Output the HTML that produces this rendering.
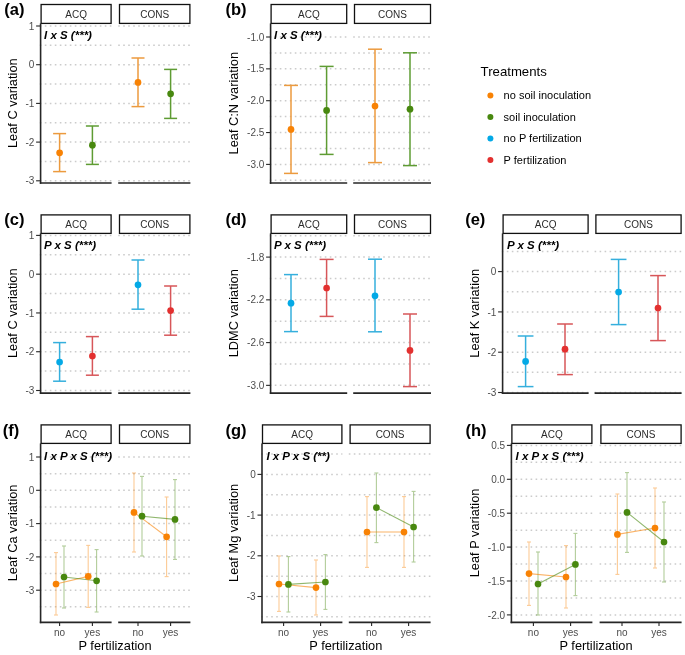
<!DOCTYPE html>
<html><head><meta charset="utf-8"><style>
html,body{margin:0;padding:0;background:#fff;}
body{width:685px;height:655px;overflow:hidden;font-family:"Liberation Sans", sans-serif;}
svg{display:block;will-change:transform;}
</style></head><body>
<svg width="685" height="655" viewBox="0 0 685 655">
<rect width="685" height="655" fill="#fff"/>
<text x="4.3" y="15.2" font-family='"Liberation Sans", sans-serif' font-weight="bold" font-size="16.5">(a)</text>
<rect x="41.10" y="4.50" width="70.00" height="18.90" fill="#fff" stroke="#111" stroke-width="1.3"/>
<text x="76.10" y="18.10" text-anchor="middle" font-family='"Liberation Sans", sans-serif' font-size="10" fill="#2b2b2b">ACQ</text>
<rect x="119.50" y="4.50" width="70.40" height="18.90" fill="#fff" stroke="#111" stroke-width="1.3"/>
<text x="154.70" y="18.10" text-anchor="middle" font-family='"Liberation Sans", sans-serif' font-size="10" fill="#2b2b2b">CONS</text>
<line x1="39.80" y1="180.80" x2="111.60" y2="180.80" stroke="#CBCBCB" stroke-width="1.5" stroke-dasharray="1.6 3.4"/>
<line x1="39.80" y1="161.45" x2="111.60" y2="161.45" stroke="#CBCBCB" stroke-width="1.5" stroke-dasharray="1.6 3.4"/>
<line x1="39.80" y1="142.10" x2="111.60" y2="142.10" stroke="#CBCBCB" stroke-width="1.5" stroke-dasharray="1.6 3.4"/>
<line x1="39.80" y1="122.75" x2="111.60" y2="122.75" stroke="#CBCBCB" stroke-width="1.5" stroke-dasharray="1.6 3.4"/>
<line x1="39.80" y1="103.40" x2="111.60" y2="103.40" stroke="#CBCBCB" stroke-width="1.5" stroke-dasharray="1.6 3.4"/>
<line x1="39.80" y1="84.05" x2="111.60" y2="84.05" stroke="#CBCBCB" stroke-width="1.5" stroke-dasharray="1.6 3.4"/>
<line x1="39.80" y1="64.70" x2="111.60" y2="64.70" stroke="#CBCBCB" stroke-width="1.5" stroke-dasharray="1.6 3.4"/>
<line x1="39.80" y1="45.35" x2="111.60" y2="45.35" stroke="#CBCBCB" stroke-width="1.5" stroke-dasharray="1.6 3.4"/>
<line x1="39.80" y1="26.00" x2="111.60" y2="26.00" stroke="#CBCBCB" stroke-width="1.5" stroke-dasharray="1.6 3.4"/>
<line x1="118.20" y1="180.80" x2="190.40" y2="180.80" stroke="#CBCBCB" stroke-width="1.5" stroke-dasharray="1.6 3.4"/>
<line x1="118.20" y1="161.45" x2="190.40" y2="161.45" stroke="#CBCBCB" stroke-width="1.5" stroke-dasharray="1.6 3.4"/>
<line x1="118.20" y1="142.10" x2="190.40" y2="142.10" stroke="#CBCBCB" stroke-width="1.5" stroke-dasharray="1.6 3.4"/>
<line x1="118.20" y1="122.75" x2="190.40" y2="122.75" stroke="#CBCBCB" stroke-width="1.5" stroke-dasharray="1.6 3.4"/>
<line x1="118.20" y1="103.40" x2="190.40" y2="103.40" stroke="#CBCBCB" stroke-width="1.5" stroke-dasharray="1.6 3.4"/>
<line x1="118.20" y1="84.05" x2="190.40" y2="84.05" stroke="#CBCBCB" stroke-width="1.5" stroke-dasharray="1.6 3.4"/>
<line x1="118.20" y1="64.70" x2="190.40" y2="64.70" stroke="#CBCBCB" stroke-width="1.5" stroke-dasharray="1.6 3.4"/>
<line x1="118.20" y1="45.35" x2="190.40" y2="45.35" stroke="#CBCBCB" stroke-width="1.5" stroke-dasharray="1.6 3.4"/>
<line x1="118.20" y1="26.00" x2="190.40" y2="26.00" stroke="#CBCBCB" stroke-width="1.5" stroke-dasharray="1.6 3.4"/>
<line x1="40.60" y1="23.40" x2="40.60" y2="183.80" stroke="#262626" stroke-width="1.6"/>
<line x1="39.80" y1="183.00" x2="111.60" y2="183.00" stroke="#262626" stroke-width="1.6"/>
<line x1="118.20" y1="183.00" x2="190.40" y2="183.00" stroke="#262626" stroke-width="1.6"/>
<line x1="36.10" y1="26.00" x2="40.60" y2="26.00" stroke="#262626" stroke-width="1.1"/>
<text x="34.30" y="29.60" text-anchor="end" font-family='"Liberation Sans", sans-serif' font-size="10" fill="#4D4D4D">1</text>
<line x1="36.10" y1="64.70" x2="40.60" y2="64.70" stroke="#262626" stroke-width="1.1"/>
<text x="34.30" y="68.30" text-anchor="end" font-family='"Liberation Sans", sans-serif' font-size="10" fill="#4D4D4D">0</text>
<line x1="36.10" y1="103.40" x2="40.60" y2="103.40" stroke="#262626" stroke-width="1.1"/>
<text x="34.30" y="107.00" text-anchor="end" font-family='"Liberation Sans", sans-serif' font-size="10" fill="#4D4D4D">-1</text>
<line x1="36.10" y1="142.10" x2="40.60" y2="142.10" stroke="#262626" stroke-width="1.1"/>
<text x="34.30" y="145.70" text-anchor="end" font-family='"Liberation Sans", sans-serif' font-size="10" fill="#4D4D4D">-2</text>
<line x1="36.10" y1="180.80" x2="40.60" y2="180.80" stroke="#262626" stroke-width="1.1"/>
<text x="34.30" y="184.40" text-anchor="end" font-family='"Liberation Sans", sans-serif' font-size="10" fill="#4D4D4D">-3</text>
<text transform="translate(17.00,103.20) rotate(-90)" text-anchor="middle" font-family='"Liberation Sans", sans-serif' font-size="12.8" fill="#000">Leaf C variation</text>
<text x="44" y="38.5" font-family='"Liberation Sans", sans-serif' font-weight="bold" font-style="italic" font-size="11.5" fill="#000">I x S (***)</text>
<g stroke="#EC9A3E" stroke-width="1.5"><line x1="59.60" y1="133.60" x2="59.60" y2="171.60"/><line x1="53.10" y1="133.60" x2="66.10" y2="133.60"/><line x1="53.10" y1="171.60" x2="66.10" y2="171.60"/></g>
<circle cx="59.60" cy="152.80" r="3.35" fill="#F88204"/>
<g stroke="#5E9C33" stroke-width="1.5"><line x1="92.40" y1="126.00" x2="92.40" y2="164.40"/><line x1="85.90" y1="126.00" x2="98.90" y2="126.00"/><line x1="85.90" y1="164.40" x2="98.90" y2="164.40"/></g>
<circle cx="92.40" cy="145.20" r="3.35" fill="#48880F"/>
<g stroke="#EC9A3E" stroke-width="1.5"><line x1="138.00" y1="58.00" x2="138.00" y2="106.60"/><line x1="131.50" y1="58.00" x2="144.50" y2="58.00"/><line x1="131.50" y1="106.60" x2="144.50" y2="106.60"/></g>
<circle cx="138.00" cy="82.40" r="3.35" fill="#F88204"/>
<g stroke="#5E9C33" stroke-width="1.5"><line x1="170.60" y1="69.40" x2="170.60" y2="118.40"/><line x1="164.10" y1="69.40" x2="177.10" y2="69.40"/><line x1="164.10" y1="118.40" x2="177.10" y2="118.40"/></g>
<circle cx="170.60" cy="93.80" r="3.35" fill="#48880F"/>
<text x="225.5" y="15.2" font-family='"Liberation Sans", sans-serif' font-weight="bold" font-size="16.5">(b)</text>
<rect x="271.10" y="4.50" width="75.60" height="18.90" fill="#fff" stroke="#111" stroke-width="1.3"/>
<text x="308.90" y="18.10" text-anchor="middle" font-family='"Liberation Sans", sans-serif' font-size="10" fill="#2b2b2b">ACQ</text>
<rect x="354.50" y="4.50" width="76.00" height="18.90" fill="#fff" stroke="#111" stroke-width="1.3"/>
<text x="392.50" y="18.10" text-anchor="middle" font-family='"Liberation Sans", sans-serif' font-size="10" fill="#2b2b2b">CONS</text>
<line x1="269.80" y1="180.33" x2="347.20" y2="180.33" stroke="#CBCBCB" stroke-width="1.5" stroke-dasharray="1.6 3.4"/>
<line x1="269.80" y1="164.40" x2="347.20" y2="164.40" stroke="#CBCBCB" stroke-width="1.5" stroke-dasharray="1.6 3.4"/>
<line x1="269.80" y1="148.48" x2="347.20" y2="148.48" stroke="#CBCBCB" stroke-width="1.5" stroke-dasharray="1.6 3.4"/>
<line x1="269.80" y1="132.55" x2="347.20" y2="132.55" stroke="#CBCBCB" stroke-width="1.5" stroke-dasharray="1.6 3.4"/>
<line x1="269.80" y1="116.62" x2="347.20" y2="116.62" stroke="#CBCBCB" stroke-width="1.5" stroke-dasharray="1.6 3.4"/>
<line x1="269.80" y1="100.70" x2="347.20" y2="100.70" stroke="#CBCBCB" stroke-width="1.5" stroke-dasharray="1.6 3.4"/>
<line x1="269.80" y1="84.78" x2="347.20" y2="84.78" stroke="#CBCBCB" stroke-width="1.5" stroke-dasharray="1.6 3.4"/>
<line x1="269.80" y1="68.85" x2="347.20" y2="68.85" stroke="#CBCBCB" stroke-width="1.5" stroke-dasharray="1.6 3.4"/>
<line x1="269.80" y1="52.92" x2="347.20" y2="52.92" stroke="#CBCBCB" stroke-width="1.5" stroke-dasharray="1.6 3.4"/>
<line x1="269.80" y1="37.00" x2="347.20" y2="37.00" stroke="#CBCBCB" stroke-width="1.5" stroke-dasharray="1.6 3.4"/>
<line x1="353.20" y1="180.33" x2="431.00" y2="180.33" stroke="#CBCBCB" stroke-width="1.5" stroke-dasharray="1.6 3.4"/>
<line x1="353.20" y1="164.40" x2="431.00" y2="164.40" stroke="#CBCBCB" stroke-width="1.5" stroke-dasharray="1.6 3.4"/>
<line x1="353.20" y1="148.48" x2="431.00" y2="148.48" stroke="#CBCBCB" stroke-width="1.5" stroke-dasharray="1.6 3.4"/>
<line x1="353.20" y1="132.55" x2="431.00" y2="132.55" stroke="#CBCBCB" stroke-width="1.5" stroke-dasharray="1.6 3.4"/>
<line x1="353.20" y1="116.62" x2="431.00" y2="116.62" stroke="#CBCBCB" stroke-width="1.5" stroke-dasharray="1.6 3.4"/>
<line x1="353.20" y1="100.70" x2="431.00" y2="100.70" stroke="#CBCBCB" stroke-width="1.5" stroke-dasharray="1.6 3.4"/>
<line x1="353.20" y1="84.78" x2="431.00" y2="84.78" stroke="#CBCBCB" stroke-width="1.5" stroke-dasharray="1.6 3.4"/>
<line x1="353.20" y1="68.85" x2="431.00" y2="68.85" stroke="#CBCBCB" stroke-width="1.5" stroke-dasharray="1.6 3.4"/>
<line x1="353.20" y1="52.92" x2="431.00" y2="52.92" stroke="#CBCBCB" stroke-width="1.5" stroke-dasharray="1.6 3.4"/>
<line x1="353.20" y1="37.00" x2="431.00" y2="37.00" stroke="#CBCBCB" stroke-width="1.5" stroke-dasharray="1.6 3.4"/>
<line x1="270.60" y1="23.40" x2="270.60" y2="183.80" stroke="#262626" stroke-width="1.6"/>
<line x1="269.80" y1="183.00" x2="347.20" y2="183.00" stroke="#262626" stroke-width="1.6"/>
<line x1="353.20" y1="183.00" x2="431.00" y2="183.00" stroke="#262626" stroke-width="1.6"/>
<line x1="266.10" y1="37.00" x2="270.60" y2="37.00" stroke="#262626" stroke-width="1.1"/>
<text x="264.30" y="40.60" text-anchor="end" font-family='"Liberation Sans", sans-serif' font-size="10" fill="#4D4D4D">-1.0</text>
<line x1="266.10" y1="68.85" x2="270.60" y2="68.85" stroke="#262626" stroke-width="1.1"/>
<text x="264.30" y="72.45" text-anchor="end" font-family='"Liberation Sans", sans-serif' font-size="10" fill="#4D4D4D">-1.5</text>
<line x1="266.10" y1="100.70" x2="270.60" y2="100.70" stroke="#262626" stroke-width="1.1"/>
<text x="264.30" y="104.30" text-anchor="end" font-family='"Liberation Sans", sans-serif' font-size="10" fill="#4D4D4D">-2.0</text>
<line x1="266.10" y1="132.55" x2="270.60" y2="132.55" stroke="#262626" stroke-width="1.1"/>
<text x="264.30" y="136.15" text-anchor="end" font-family='"Liberation Sans", sans-serif' font-size="10" fill="#4D4D4D">-2.5</text>
<line x1="266.10" y1="164.40" x2="270.60" y2="164.40" stroke="#262626" stroke-width="1.1"/>
<text x="264.30" y="168.00" text-anchor="end" font-family='"Liberation Sans", sans-serif' font-size="10" fill="#4D4D4D">-3.0</text>
<text transform="translate(238.00,103.20) rotate(-90)" text-anchor="middle" font-family='"Liberation Sans", sans-serif' font-size="12.8" fill="#000">Leaf C:N variation</text>
<text x="274" y="39" font-family='"Liberation Sans", sans-serif' font-weight="bold" font-style="italic" font-size="11.5" fill="#000">I x S (***)</text>
<g stroke="#EC9A3E" stroke-width="1.5"><line x1="291.00" y1="85.40" x2="291.00" y2="173.40"/><line x1="283.99" y1="85.40" x2="298.01" y2="85.40"/><line x1="283.99" y1="173.40" x2="298.01" y2="173.40"/></g>
<circle cx="291.00" cy="129.40" r="3.35" fill="#F88204"/>
<g stroke="#5E9C33" stroke-width="1.5"><line x1="326.60" y1="66.40" x2="326.60" y2="154.40"/><line x1="319.59" y1="66.40" x2="333.61" y2="66.40"/><line x1="319.59" y1="154.40" x2="333.61" y2="154.40"/></g>
<circle cx="326.60" cy="110.40" r="3.35" fill="#48880F"/>
<g stroke="#EC9A3E" stroke-width="1.5"><line x1="375.00" y1="49.20" x2="375.00" y2="162.60"/><line x1="367.99" y1="49.20" x2="382.01" y2="49.20"/><line x1="367.99" y1="162.60" x2="382.01" y2="162.60"/></g>
<circle cx="375.00" cy="106.00" r="3.35" fill="#F88204"/>
<g stroke="#5E9C33" stroke-width="1.5"><line x1="410.00" y1="52.80" x2="410.00" y2="165.60"/><line x1="402.99" y1="52.80" x2="417.01" y2="52.80"/><line x1="402.99" y1="165.60" x2="417.01" y2="165.60"/></g>
<circle cx="410.00" cy="109.20" r="3.35" fill="#48880F"/>
<text x="4.3" y="225.3" font-family='"Liberation Sans", sans-serif' font-weight="bold" font-size="16.5">(c)</text>
<rect x="41.10" y="214.90" width="70.00" height="18.50" fill="#fff" stroke="#111" stroke-width="1.3"/>
<text x="76.10" y="228.30" text-anchor="middle" font-family='"Liberation Sans", sans-serif' font-size="10" fill="#2b2b2b">ACQ</text>
<rect x="119.50" y="214.90" width="70.40" height="18.50" fill="#fff" stroke="#111" stroke-width="1.3"/>
<text x="154.70" y="228.30" text-anchor="middle" font-family='"Liberation Sans", sans-serif' font-size="10" fill="#2b2b2b">CONS</text>
<line x1="39.80" y1="390.50" x2="111.60" y2="390.50" stroke="#CBCBCB" stroke-width="1.5" stroke-dasharray="1.6 3.4"/>
<line x1="39.80" y1="371.11" x2="111.60" y2="371.11" stroke="#CBCBCB" stroke-width="1.5" stroke-dasharray="1.6 3.4"/>
<line x1="39.80" y1="351.73" x2="111.60" y2="351.73" stroke="#CBCBCB" stroke-width="1.5" stroke-dasharray="1.6 3.4"/>
<line x1="39.80" y1="332.34" x2="111.60" y2="332.34" stroke="#CBCBCB" stroke-width="1.5" stroke-dasharray="1.6 3.4"/>
<line x1="39.80" y1="312.95" x2="111.60" y2="312.95" stroke="#CBCBCB" stroke-width="1.5" stroke-dasharray="1.6 3.4"/>
<line x1="39.80" y1="293.56" x2="111.60" y2="293.56" stroke="#CBCBCB" stroke-width="1.5" stroke-dasharray="1.6 3.4"/>
<line x1="39.80" y1="274.18" x2="111.60" y2="274.18" stroke="#CBCBCB" stroke-width="1.5" stroke-dasharray="1.6 3.4"/>
<line x1="39.80" y1="254.79" x2="111.60" y2="254.79" stroke="#CBCBCB" stroke-width="1.5" stroke-dasharray="1.6 3.4"/>
<line x1="39.80" y1="235.40" x2="111.60" y2="235.40" stroke="#CBCBCB" stroke-width="1.5" stroke-dasharray="1.6 3.4"/>
<line x1="118.20" y1="390.50" x2="190.40" y2="390.50" stroke="#CBCBCB" stroke-width="1.5" stroke-dasharray="1.6 3.4"/>
<line x1="118.20" y1="371.11" x2="190.40" y2="371.11" stroke="#CBCBCB" stroke-width="1.5" stroke-dasharray="1.6 3.4"/>
<line x1="118.20" y1="351.73" x2="190.40" y2="351.73" stroke="#CBCBCB" stroke-width="1.5" stroke-dasharray="1.6 3.4"/>
<line x1="118.20" y1="332.34" x2="190.40" y2="332.34" stroke="#CBCBCB" stroke-width="1.5" stroke-dasharray="1.6 3.4"/>
<line x1="118.20" y1="312.95" x2="190.40" y2="312.95" stroke="#CBCBCB" stroke-width="1.5" stroke-dasharray="1.6 3.4"/>
<line x1="118.20" y1="293.56" x2="190.40" y2="293.56" stroke="#CBCBCB" stroke-width="1.5" stroke-dasharray="1.6 3.4"/>
<line x1="118.20" y1="274.18" x2="190.40" y2="274.18" stroke="#CBCBCB" stroke-width="1.5" stroke-dasharray="1.6 3.4"/>
<line x1="118.20" y1="254.79" x2="190.40" y2="254.79" stroke="#CBCBCB" stroke-width="1.5" stroke-dasharray="1.6 3.4"/>
<line x1="118.20" y1="235.40" x2="190.40" y2="235.40" stroke="#CBCBCB" stroke-width="1.5" stroke-dasharray="1.6 3.4"/>
<line x1="40.60" y1="233.40" x2="40.60" y2="393.90" stroke="#262626" stroke-width="1.6"/>
<line x1="39.80" y1="393.10" x2="111.60" y2="393.10" stroke="#262626" stroke-width="1.6"/>
<line x1="118.20" y1="393.10" x2="190.40" y2="393.10" stroke="#262626" stroke-width="1.6"/>
<line x1="36.10" y1="235.40" x2="40.60" y2="235.40" stroke="#262626" stroke-width="1.1"/>
<text x="34.30" y="239.00" text-anchor="end" font-family='"Liberation Sans", sans-serif' font-size="10" fill="#4D4D4D">1</text>
<line x1="36.10" y1="274.18" x2="40.60" y2="274.18" stroke="#262626" stroke-width="1.1"/>
<text x="34.30" y="277.78" text-anchor="end" font-family='"Liberation Sans", sans-serif' font-size="10" fill="#4D4D4D">0</text>
<line x1="36.10" y1="312.95" x2="40.60" y2="312.95" stroke="#262626" stroke-width="1.1"/>
<text x="34.30" y="316.55" text-anchor="end" font-family='"Liberation Sans", sans-serif' font-size="10" fill="#4D4D4D">-1</text>
<line x1="36.10" y1="351.73" x2="40.60" y2="351.73" stroke="#262626" stroke-width="1.1"/>
<text x="34.30" y="355.33" text-anchor="end" font-family='"Liberation Sans", sans-serif' font-size="10" fill="#4D4D4D">-2</text>
<line x1="36.10" y1="390.50" x2="40.60" y2="390.50" stroke="#262626" stroke-width="1.1"/>
<text x="34.30" y="394.10" text-anchor="end" font-family='"Liberation Sans", sans-serif' font-size="10" fill="#4D4D4D">-3</text>
<text transform="translate(17.00,313.25) rotate(-90)" text-anchor="middle" font-family='"Liberation Sans", sans-serif' font-size="12.8" fill="#000">Leaf C variation</text>
<text x="44" y="248.8" font-family='"Liberation Sans", sans-serif' font-weight="bold" font-style="italic" font-size="11.5" fill="#000">P x S (***)</text>
<g stroke="#35AFDD" stroke-width="1.5"><line x1="59.60" y1="342.60" x2="59.60" y2="381.20"/><line x1="53.10" y1="342.60" x2="66.10" y2="342.60"/><line x1="53.10" y1="381.20" x2="66.10" y2="381.20"/></g>
<circle cx="59.60" cy="362.00" r="3.35" fill="#03A9E6"/>
<g stroke="#D75659" stroke-width="1.5"><line x1="92.40" y1="336.60" x2="92.40" y2="375.20"/><line x1="85.90" y1="336.60" x2="98.90" y2="336.60"/><line x1="85.90" y1="375.20" x2="98.90" y2="375.20"/></g>
<circle cx="92.40" cy="356.00" r="3.35" fill="#E3302F"/>
<g stroke="#35AFDD" stroke-width="1.5"><line x1="138.00" y1="260.00" x2="138.00" y2="309.20"/><line x1="131.50" y1="260.00" x2="144.50" y2="260.00"/><line x1="131.50" y1="309.20" x2="144.50" y2="309.20"/></g>
<circle cx="138.00" cy="284.80" r="3.35" fill="#03A9E6"/>
<g stroke="#D75659" stroke-width="1.5"><line x1="170.60" y1="286.00" x2="170.60" y2="335.20"/><line x1="164.10" y1="286.00" x2="177.10" y2="286.00"/><line x1="164.10" y1="335.20" x2="177.10" y2="335.20"/></g>
<circle cx="170.60" cy="310.60" r="3.35" fill="#E3302F"/>
<text x="225.5" y="225.3" font-family='"Liberation Sans", sans-serif' font-weight="bold" font-size="16.5">(d)</text>
<rect x="271.10" y="214.90" width="75.60" height="18.50" fill="#fff" stroke="#111" stroke-width="1.3"/>
<text x="308.90" y="228.30" text-anchor="middle" font-family='"Liberation Sans", sans-serif' font-size="10" fill="#2b2b2b">ACQ</text>
<rect x="354.50" y="214.90" width="76.00" height="18.50" fill="#fff" stroke="#111" stroke-width="1.3"/>
<text x="392.50" y="228.30" text-anchor="middle" font-family='"Liberation Sans", sans-serif' font-size="10" fill="#2b2b2b">CONS</text>
<line x1="269.80" y1="385.35" x2="347.20" y2="385.35" stroke="#CBCBCB" stroke-width="1.5" stroke-dasharray="1.6 3.4"/>
<line x1="269.80" y1="363.97" x2="347.20" y2="363.97" stroke="#CBCBCB" stroke-width="1.5" stroke-dasharray="1.6 3.4"/>
<line x1="269.80" y1="342.60" x2="347.20" y2="342.60" stroke="#CBCBCB" stroke-width="1.5" stroke-dasharray="1.6 3.4"/>
<line x1="269.80" y1="321.22" x2="347.20" y2="321.22" stroke="#CBCBCB" stroke-width="1.5" stroke-dasharray="1.6 3.4"/>
<line x1="269.80" y1="299.85" x2="347.20" y2="299.85" stroke="#CBCBCB" stroke-width="1.5" stroke-dasharray="1.6 3.4"/>
<line x1="269.80" y1="278.47" x2="347.20" y2="278.47" stroke="#CBCBCB" stroke-width="1.5" stroke-dasharray="1.6 3.4"/>
<line x1="269.80" y1="257.10" x2="347.20" y2="257.10" stroke="#CBCBCB" stroke-width="1.5" stroke-dasharray="1.6 3.4"/>
<line x1="269.80" y1="235.72" x2="347.20" y2="235.72" stroke="#CBCBCB" stroke-width="1.5" stroke-dasharray="1.6 3.4"/>
<line x1="353.20" y1="385.35" x2="431.00" y2="385.35" stroke="#CBCBCB" stroke-width="1.5" stroke-dasharray="1.6 3.4"/>
<line x1="353.20" y1="363.97" x2="431.00" y2="363.97" stroke="#CBCBCB" stroke-width="1.5" stroke-dasharray="1.6 3.4"/>
<line x1="353.20" y1="342.60" x2="431.00" y2="342.60" stroke="#CBCBCB" stroke-width="1.5" stroke-dasharray="1.6 3.4"/>
<line x1="353.20" y1="321.22" x2="431.00" y2="321.22" stroke="#CBCBCB" stroke-width="1.5" stroke-dasharray="1.6 3.4"/>
<line x1="353.20" y1="299.85" x2="431.00" y2="299.85" stroke="#CBCBCB" stroke-width="1.5" stroke-dasharray="1.6 3.4"/>
<line x1="353.20" y1="278.47" x2="431.00" y2="278.47" stroke="#CBCBCB" stroke-width="1.5" stroke-dasharray="1.6 3.4"/>
<line x1="353.20" y1="257.10" x2="431.00" y2="257.10" stroke="#CBCBCB" stroke-width="1.5" stroke-dasharray="1.6 3.4"/>
<line x1="353.20" y1="235.72" x2="431.00" y2="235.72" stroke="#CBCBCB" stroke-width="1.5" stroke-dasharray="1.6 3.4"/>
<line x1="270.60" y1="233.40" x2="270.60" y2="393.90" stroke="#262626" stroke-width="1.6"/>
<line x1="269.80" y1="393.10" x2="347.20" y2="393.10" stroke="#262626" stroke-width="1.6"/>
<line x1="353.20" y1="393.10" x2="431.00" y2="393.10" stroke="#262626" stroke-width="1.6"/>
<line x1="266.10" y1="257.10" x2="270.60" y2="257.10" stroke="#262626" stroke-width="1.1"/>
<text x="264.30" y="260.70" text-anchor="end" font-family='"Liberation Sans", sans-serif' font-size="10" fill="#4D4D4D">-1.8</text>
<line x1="266.10" y1="299.85" x2="270.60" y2="299.85" stroke="#262626" stroke-width="1.1"/>
<text x="264.30" y="303.45" text-anchor="end" font-family='"Liberation Sans", sans-serif' font-size="10" fill="#4D4D4D">-2.2</text>
<line x1="266.10" y1="342.60" x2="270.60" y2="342.60" stroke="#262626" stroke-width="1.1"/>
<text x="264.30" y="346.20" text-anchor="end" font-family='"Liberation Sans", sans-serif' font-size="10" fill="#4D4D4D">-2.6</text>
<line x1="266.10" y1="385.35" x2="270.60" y2="385.35" stroke="#262626" stroke-width="1.1"/>
<text x="264.30" y="388.95" text-anchor="end" font-family='"Liberation Sans", sans-serif' font-size="10" fill="#4D4D4D">-3.0</text>
<text transform="translate(238.00,313.25) rotate(-90)" text-anchor="middle" font-family='"Liberation Sans", sans-serif' font-size="12.8" fill="#000">LDMC variation</text>
<text x="274" y="248.8" font-family='"Liberation Sans", sans-serif' font-weight="bold" font-style="italic" font-size="11.5" fill="#000">P x S (***)</text>
<g stroke="#35AFDD" stroke-width="1.5"><line x1="291.00" y1="274.60" x2="291.00" y2="331.60"/><line x1="283.99" y1="274.60" x2="298.01" y2="274.60"/><line x1="283.99" y1="331.60" x2="298.01" y2="331.60"/></g>
<circle cx="291.00" cy="303.20" r="3.35" fill="#03A9E6"/>
<g stroke="#D75659" stroke-width="1.5"><line x1="326.60" y1="259.40" x2="326.60" y2="316.40"/><line x1="319.59" y1="259.40" x2="333.61" y2="259.40"/><line x1="319.59" y1="316.40" x2="333.61" y2="316.40"/></g>
<circle cx="326.60" cy="288.00" r="3.35" fill="#E3302F"/>
<g stroke="#35AFDD" stroke-width="1.5"><line x1="375.00" y1="259.20" x2="375.00" y2="331.80"/><line x1="367.99" y1="259.20" x2="382.01" y2="259.20"/><line x1="367.99" y1="331.80" x2="382.01" y2="331.80"/></g>
<circle cx="375.00" cy="295.80" r="3.35" fill="#03A9E6"/>
<g stroke="#D75659" stroke-width="1.5"><line x1="410.00" y1="314.00" x2="410.00" y2="386.60"/><line x1="402.99" y1="314.00" x2="417.01" y2="314.00"/><line x1="402.99" y1="386.60" x2="417.01" y2="386.60"/></g>
<circle cx="410.00" cy="350.40" r="3.35" fill="#E3302F"/>
<text x="465.2" y="225.3" font-family='"Liberation Sans", sans-serif' font-weight="bold" font-size="16.5">(e)</text>
<rect x="503.10" y="214.90" width="85.00" height="18.50" fill="#fff" stroke="#111" stroke-width="1.3"/>
<text x="545.60" y="228.30" text-anchor="middle" font-family='"Liberation Sans", sans-serif' font-size="10" fill="#2b2b2b">ACQ</text>
<rect x="595.90" y="214.90" width="85.20" height="18.50" fill="#fff" stroke="#111" stroke-width="1.3"/>
<text x="638.50" y="228.30" text-anchor="middle" font-family='"Liberation Sans", sans-serif' font-size="10" fill="#2b2b2b">CONS</text>
<line x1="501.80" y1="392.50" x2="588.60" y2="392.50" stroke="#CBCBCB" stroke-width="1.5" stroke-dasharray="1.6 3.4"/>
<line x1="501.80" y1="372.35" x2="588.60" y2="372.35" stroke="#CBCBCB" stroke-width="1.5" stroke-dasharray="1.6 3.4"/>
<line x1="501.80" y1="352.20" x2="588.60" y2="352.20" stroke="#CBCBCB" stroke-width="1.5" stroke-dasharray="1.6 3.4"/>
<line x1="501.80" y1="332.05" x2="588.60" y2="332.05" stroke="#CBCBCB" stroke-width="1.5" stroke-dasharray="1.6 3.4"/>
<line x1="501.80" y1="311.90" x2="588.60" y2="311.90" stroke="#CBCBCB" stroke-width="1.5" stroke-dasharray="1.6 3.4"/>
<line x1="501.80" y1="291.75" x2="588.60" y2="291.75" stroke="#CBCBCB" stroke-width="1.5" stroke-dasharray="1.6 3.4"/>
<line x1="501.80" y1="271.60" x2="588.60" y2="271.60" stroke="#CBCBCB" stroke-width="1.5" stroke-dasharray="1.6 3.4"/>
<line x1="501.80" y1="251.45" x2="588.60" y2="251.45" stroke="#CBCBCB" stroke-width="1.5" stroke-dasharray="1.6 3.4"/>
<line x1="594.60" y1="392.50" x2="681.60" y2="392.50" stroke="#CBCBCB" stroke-width="1.5" stroke-dasharray="1.6 3.4"/>
<line x1="594.60" y1="372.35" x2="681.60" y2="372.35" stroke="#CBCBCB" stroke-width="1.5" stroke-dasharray="1.6 3.4"/>
<line x1="594.60" y1="352.20" x2="681.60" y2="352.20" stroke="#CBCBCB" stroke-width="1.5" stroke-dasharray="1.6 3.4"/>
<line x1="594.60" y1="332.05" x2="681.60" y2="332.05" stroke="#CBCBCB" stroke-width="1.5" stroke-dasharray="1.6 3.4"/>
<line x1="594.60" y1="311.90" x2="681.60" y2="311.90" stroke="#CBCBCB" stroke-width="1.5" stroke-dasharray="1.6 3.4"/>
<line x1="594.60" y1="291.75" x2="681.60" y2="291.75" stroke="#CBCBCB" stroke-width="1.5" stroke-dasharray="1.6 3.4"/>
<line x1="594.60" y1="271.60" x2="681.60" y2="271.60" stroke="#CBCBCB" stroke-width="1.5" stroke-dasharray="1.6 3.4"/>
<line x1="594.60" y1="251.45" x2="681.60" y2="251.45" stroke="#CBCBCB" stroke-width="1.5" stroke-dasharray="1.6 3.4"/>
<line x1="502.60" y1="233.40" x2="502.60" y2="393.90" stroke="#262626" stroke-width="1.6"/>
<line x1="501.80" y1="393.10" x2="588.60" y2="393.10" stroke="#262626" stroke-width="1.6"/>
<line x1="594.60" y1="393.10" x2="681.60" y2="393.10" stroke="#262626" stroke-width="1.6"/>
<line x1="498.10" y1="271.60" x2="502.60" y2="271.60" stroke="#262626" stroke-width="1.1"/>
<text x="496.30" y="275.20" text-anchor="end" font-family='"Liberation Sans", sans-serif' font-size="10" fill="#4D4D4D">0</text>
<line x1="498.10" y1="311.90" x2="502.60" y2="311.90" stroke="#262626" stroke-width="1.1"/>
<text x="496.30" y="315.50" text-anchor="end" font-family='"Liberation Sans", sans-serif' font-size="10" fill="#4D4D4D">-1</text>
<line x1="498.10" y1="352.20" x2="502.60" y2="352.20" stroke="#262626" stroke-width="1.1"/>
<text x="496.30" y="355.80" text-anchor="end" font-family='"Liberation Sans", sans-serif' font-size="10" fill="#4D4D4D">-2</text>
<line x1="498.10" y1="392.50" x2="502.60" y2="392.50" stroke="#262626" stroke-width="1.1"/>
<text x="496.30" y="396.10" text-anchor="end" font-family='"Liberation Sans", sans-serif' font-size="10" fill="#4D4D4D">-3</text>
<text transform="translate(479.00,313.25) rotate(-90)" text-anchor="middle" font-family='"Liberation Sans", sans-serif' font-size="12.8" fill="#000">Leaf K variation</text>
<text x="507" y="248.8" font-family='"Liberation Sans", sans-serif' font-weight="bold" font-style="italic" font-size="11.5" fill="#000">P x S (***)</text>
<g stroke="#35AFDD" stroke-width="1.5"><line x1="525.60" y1="336.00" x2="525.60" y2="386.60"/><line x1="517.73" y1="336.00" x2="533.47" y2="336.00"/><line x1="517.73" y1="386.60" x2="533.47" y2="386.60"/></g>
<circle cx="525.60" cy="361.40" r="3.35" fill="#03A9E6"/>
<g stroke="#D75659" stroke-width="1.5"><line x1="565.00" y1="324.00" x2="565.00" y2="374.60"/><line x1="557.13" y1="324.00" x2="572.87" y2="324.00"/><line x1="557.13" y1="374.60" x2="572.87" y2="374.60"/></g>
<circle cx="565.00" cy="349.20" r="3.35" fill="#E3302F"/>
<g stroke="#35AFDD" stroke-width="1.5"><line x1="618.60" y1="259.40" x2="618.60" y2="324.60"/><line x1="610.73" y1="259.40" x2="626.47" y2="259.40"/><line x1="610.73" y1="324.60" x2="626.47" y2="324.60"/></g>
<circle cx="618.60" cy="292.00" r="3.35" fill="#03A9E6"/>
<g stroke="#D75659" stroke-width="1.5"><line x1="658.00" y1="275.60" x2="658.00" y2="340.60"/><line x1="650.13" y1="275.60" x2="665.87" y2="275.60"/><line x1="650.13" y1="340.60" x2="665.87" y2="340.60"/></g>
<circle cx="658.00" cy="308.00" r="3.35" fill="#E3302F"/>
<text x="2.8" y="435.5" font-family='"Liberation Sans", sans-serif' font-weight="bold" font-size="16.5">(f)</text>
<rect x="41.10" y="424.90" width="70.00" height="18.50" fill="#fff" stroke="#111" stroke-width="1.3"/>
<text x="76.10" y="438.30" text-anchor="middle" font-family='"Liberation Sans", sans-serif' font-size="10" fill="#2b2b2b">ACQ</text>
<rect x="119.50" y="424.90" width="70.40" height="18.50" fill="#fff" stroke="#111" stroke-width="1.3"/>
<text x="154.70" y="438.30" text-anchor="middle" font-family='"Liberation Sans", sans-serif' font-size="10" fill="#2b2b2b">CONS</text>
<line x1="39.80" y1="606.85" x2="111.60" y2="606.85" stroke="#CBCBCB" stroke-width="1.5" stroke-dasharray="1.6 3.4"/>
<line x1="39.80" y1="590.20" x2="111.60" y2="590.20" stroke="#CBCBCB" stroke-width="1.5" stroke-dasharray="1.6 3.4"/>
<line x1="39.80" y1="573.55" x2="111.60" y2="573.55" stroke="#CBCBCB" stroke-width="1.5" stroke-dasharray="1.6 3.4"/>
<line x1="39.80" y1="556.90" x2="111.60" y2="556.90" stroke="#CBCBCB" stroke-width="1.5" stroke-dasharray="1.6 3.4"/>
<line x1="39.80" y1="540.25" x2="111.60" y2="540.25" stroke="#CBCBCB" stroke-width="1.5" stroke-dasharray="1.6 3.4"/>
<line x1="39.80" y1="523.60" x2="111.60" y2="523.60" stroke="#CBCBCB" stroke-width="1.5" stroke-dasharray="1.6 3.4"/>
<line x1="39.80" y1="506.95" x2="111.60" y2="506.95" stroke="#CBCBCB" stroke-width="1.5" stroke-dasharray="1.6 3.4"/>
<line x1="39.80" y1="490.30" x2="111.60" y2="490.30" stroke="#CBCBCB" stroke-width="1.5" stroke-dasharray="1.6 3.4"/>
<line x1="39.80" y1="473.65" x2="111.60" y2="473.65" stroke="#CBCBCB" stroke-width="1.5" stroke-dasharray="1.6 3.4"/>
<line x1="39.80" y1="457.00" x2="111.60" y2="457.00" stroke="#CBCBCB" stroke-width="1.5" stroke-dasharray="1.6 3.4"/>
<line x1="118.20" y1="606.85" x2="190.40" y2="606.85" stroke="#CBCBCB" stroke-width="1.5" stroke-dasharray="1.6 3.4"/>
<line x1="118.20" y1="590.20" x2="190.40" y2="590.20" stroke="#CBCBCB" stroke-width="1.5" stroke-dasharray="1.6 3.4"/>
<line x1="118.20" y1="573.55" x2="190.40" y2="573.55" stroke="#CBCBCB" stroke-width="1.5" stroke-dasharray="1.6 3.4"/>
<line x1="118.20" y1="556.90" x2="190.40" y2="556.90" stroke="#CBCBCB" stroke-width="1.5" stroke-dasharray="1.6 3.4"/>
<line x1="118.20" y1="540.25" x2="190.40" y2="540.25" stroke="#CBCBCB" stroke-width="1.5" stroke-dasharray="1.6 3.4"/>
<line x1="118.20" y1="523.60" x2="190.40" y2="523.60" stroke="#CBCBCB" stroke-width="1.5" stroke-dasharray="1.6 3.4"/>
<line x1="118.20" y1="506.95" x2="190.40" y2="506.95" stroke="#CBCBCB" stroke-width="1.5" stroke-dasharray="1.6 3.4"/>
<line x1="118.20" y1="490.30" x2="190.40" y2="490.30" stroke="#CBCBCB" stroke-width="1.5" stroke-dasharray="1.6 3.4"/>
<line x1="118.20" y1="473.65" x2="190.40" y2="473.65" stroke="#CBCBCB" stroke-width="1.5" stroke-dasharray="1.6 3.4"/>
<line x1="118.20" y1="457.00" x2="190.40" y2="457.00" stroke="#CBCBCB" stroke-width="1.5" stroke-dasharray="1.6 3.4"/>
<line x1="40.60" y1="443.40" x2="40.60" y2="623.20" stroke="#262626" stroke-width="1.6"/>
<line x1="39.80" y1="622.40" x2="111.60" y2="622.40" stroke="#262626" stroke-width="1.6"/>
<line x1="118.20" y1="622.40" x2="190.40" y2="622.40" stroke="#262626" stroke-width="1.6"/>
<line x1="36.10" y1="457.00" x2="40.60" y2="457.00" stroke="#262626" stroke-width="1.1"/>
<text x="34.30" y="460.60" text-anchor="end" font-family='"Liberation Sans", sans-serif' font-size="10" fill="#4D4D4D">1</text>
<line x1="36.10" y1="490.30" x2="40.60" y2="490.30" stroke="#262626" stroke-width="1.1"/>
<text x="34.30" y="493.90" text-anchor="end" font-family='"Liberation Sans", sans-serif' font-size="10" fill="#4D4D4D">0</text>
<line x1="36.10" y1="523.60" x2="40.60" y2="523.60" stroke="#262626" stroke-width="1.1"/>
<text x="34.30" y="527.20" text-anchor="end" font-family='"Liberation Sans", sans-serif' font-size="10" fill="#4D4D4D">-1</text>
<line x1="36.10" y1="556.90" x2="40.60" y2="556.90" stroke="#262626" stroke-width="1.1"/>
<text x="34.30" y="560.50" text-anchor="end" font-family='"Liberation Sans", sans-serif' font-size="10" fill="#4D4D4D">-2</text>
<line x1="36.10" y1="590.20" x2="40.60" y2="590.20" stroke="#262626" stroke-width="1.1"/>
<text x="34.30" y="593.80" text-anchor="end" font-family='"Liberation Sans", sans-serif' font-size="10" fill="#4D4D4D">-3</text>
<text transform="translate(17.00,532.90) rotate(-90)" text-anchor="middle" font-family='"Liberation Sans", sans-serif' font-size="12.8" fill="#000">Leaf Ca variation</text>
<text x="44" y="459.5" font-family='"Liberation Sans", sans-serif' font-weight="bold" font-style="italic" font-size="11.5" fill="#000">I x P x S (***)</text>
<line x1="59.60" y1="622.40" x2="59.60" y2="625.90" stroke="#262626" stroke-width="1.1"/>
<text x="59.60" y="635.90" text-anchor="middle" font-family='"Liberation Sans", sans-serif' font-size="10" fill="#4D4D4D">no</text>
<line x1="92.40" y1="622.40" x2="92.40" y2="625.90" stroke="#262626" stroke-width="1.1"/>
<text x="92.40" y="635.90" text-anchor="middle" font-family='"Liberation Sans", sans-serif' font-size="10" fill="#4D4D4D">yes</text>
<line x1="138.00" y1="622.40" x2="138.00" y2="625.90" stroke="#262626" stroke-width="1.1"/>
<text x="138.00" y="635.90" text-anchor="middle" font-family='"Liberation Sans", sans-serif' font-size="10" fill="#4D4D4D">no</text>
<line x1="170.60" y1="622.40" x2="170.60" y2="625.90" stroke="#262626" stroke-width="1.1"/>
<text x="170.60" y="635.90" text-anchor="middle" font-family='"Liberation Sans", sans-serif' font-size="10" fill="#4D4D4D">yes</text>
<text x="115.00" y="650.2" text-anchor="middle" font-family='"Liberation Sans", sans-serif' font-size="12.8" fill="#000">P fertilization</text>
<g stroke="#F88204" stroke-width="1.1" opacity="0.42"><line x1="56.00" y1="552.60" x2="56.00" y2="615.00"/><line x1="54.00" y1="552.60" x2="58.00" y2="552.60"/><line x1="54.00" y1="615.00" x2="58.00" y2="615.00"/></g>
<g stroke="#F88204" stroke-width="1.1" opacity="0.42"><line x1="88.20" y1="545.40" x2="88.20" y2="607.40"/><line x1="86.20" y1="545.40" x2="90.20" y2="545.40"/><line x1="86.20" y1="607.40" x2="90.20" y2="607.40"/></g>
<g stroke="#48880F" stroke-width="1.1" opacity="0.42"><line x1="64.00" y1="546.00" x2="64.00" y2="608.00"/><line x1="62.00" y1="546.00" x2="66.00" y2="546.00"/><line x1="62.00" y1="608.00" x2="66.00" y2="608.00"/></g>
<g stroke="#48880F" stroke-width="1.1" opacity="0.42"><line x1="96.60" y1="549.60" x2="96.60" y2="612.00"/><line x1="94.60" y1="549.60" x2="98.60" y2="549.60"/><line x1="94.60" y1="612.00" x2="98.60" y2="612.00"/></g>
<line x1="56.00" y1="584.00" x2="88.20" y2="576.40" stroke="#F88204" stroke-width="1.1" opacity="0.6"/>
<line x1="64.00" y1="577.00" x2="96.60" y2="580.80" stroke="#48880F" stroke-width="1.1" opacity="0.6"/>
<circle cx="56.00" cy="584.00" r="3.35" fill="#F88204"/>
<circle cx="88.20" cy="576.40" r="3.35" fill="#F88204"/>
<circle cx="64.00" cy="577.00" r="3.35" fill="#48880F"/>
<circle cx="96.60" cy="580.80" r="3.35" fill="#48880F"/>
<g stroke="#F88204" stroke-width="1.1" opacity="0.42"><line x1="134.00" y1="473.00" x2="134.00" y2="552.00"/><line x1="132.00" y1="473.00" x2="136.00" y2="473.00"/><line x1="132.00" y1="552.00" x2="136.00" y2="552.00"/></g>
<g stroke="#F88204" stroke-width="1.1" opacity="0.42"><line x1="166.60" y1="497.00" x2="166.60" y2="576.60"/><line x1="164.60" y1="497.00" x2="168.60" y2="497.00"/><line x1="164.60" y1="576.60" x2="168.60" y2="576.60"/></g>
<g stroke="#48880F" stroke-width="1.1" opacity="0.42"><line x1="142.00" y1="476.40" x2="142.00" y2="556.00"/><line x1="140.00" y1="476.40" x2="144.00" y2="476.40"/><line x1="140.00" y1="556.00" x2="144.00" y2="556.00"/></g>
<g stroke="#48880F" stroke-width="1.1" opacity="0.42"><line x1="175.00" y1="479.60" x2="175.00" y2="559.40"/><line x1="173.00" y1="479.60" x2="177.00" y2="479.60"/><line x1="173.00" y1="559.40" x2="177.00" y2="559.40"/></g>
<line x1="134.00" y1="512.40" x2="166.60" y2="536.80" stroke="#F88204" stroke-width="1.1" opacity="0.6"/>
<line x1="142.00" y1="516.20" x2="175.00" y2="519.40" stroke="#48880F" stroke-width="1.1" opacity="0.6"/>
<circle cx="134.00" cy="512.40" r="3.35" fill="#F88204"/>
<circle cx="166.60" cy="536.80" r="3.35" fill="#F88204"/>
<circle cx="142.00" cy="516.20" r="3.35" fill="#48880F"/>
<circle cx="175.00" cy="519.40" r="3.35" fill="#48880F"/>
<text x="225.5" y="435.5" font-family='"Liberation Sans", sans-serif' font-weight="bold" font-size="16.5">(g)</text>
<rect x="262.50" y="424.90" width="79.40" height="18.50" fill="#fff" stroke="#111" stroke-width="1.3"/>
<text x="302.20" y="438.30" text-anchor="middle" font-family='"Liberation Sans", sans-serif' font-size="10" fill="#2b2b2b">ACQ</text>
<rect x="350.10" y="424.90" width="80.00" height="18.50" fill="#fff" stroke="#111" stroke-width="1.3"/>
<text x="390.10" y="438.30" text-anchor="middle" font-family='"Liberation Sans", sans-serif' font-size="10" fill="#2b2b2b">CONS</text>
<line x1="261.20" y1="616.85" x2="342.40" y2="616.85" stroke="#CBCBCB" stroke-width="1.5" stroke-dasharray="1.6 3.4"/>
<line x1="261.20" y1="596.50" x2="342.40" y2="596.50" stroke="#CBCBCB" stroke-width="1.5" stroke-dasharray="1.6 3.4"/>
<line x1="261.20" y1="576.15" x2="342.40" y2="576.15" stroke="#CBCBCB" stroke-width="1.5" stroke-dasharray="1.6 3.4"/>
<line x1="261.20" y1="555.80" x2="342.40" y2="555.80" stroke="#CBCBCB" stroke-width="1.5" stroke-dasharray="1.6 3.4"/>
<line x1="261.20" y1="535.45" x2="342.40" y2="535.45" stroke="#CBCBCB" stroke-width="1.5" stroke-dasharray="1.6 3.4"/>
<line x1="261.20" y1="515.10" x2="342.40" y2="515.10" stroke="#CBCBCB" stroke-width="1.5" stroke-dasharray="1.6 3.4"/>
<line x1="261.20" y1="494.75" x2="342.40" y2="494.75" stroke="#CBCBCB" stroke-width="1.5" stroke-dasharray="1.6 3.4"/>
<line x1="261.20" y1="474.40" x2="342.40" y2="474.40" stroke="#CBCBCB" stroke-width="1.5" stroke-dasharray="1.6 3.4"/>
<line x1="261.20" y1="454.05" x2="342.40" y2="454.05" stroke="#CBCBCB" stroke-width="1.5" stroke-dasharray="1.6 3.4"/>
<line x1="348.80" y1="616.85" x2="430.60" y2="616.85" stroke="#CBCBCB" stroke-width="1.5" stroke-dasharray="1.6 3.4"/>
<line x1="348.80" y1="596.50" x2="430.60" y2="596.50" stroke="#CBCBCB" stroke-width="1.5" stroke-dasharray="1.6 3.4"/>
<line x1="348.80" y1="576.15" x2="430.60" y2="576.15" stroke="#CBCBCB" stroke-width="1.5" stroke-dasharray="1.6 3.4"/>
<line x1="348.80" y1="555.80" x2="430.60" y2="555.80" stroke="#CBCBCB" stroke-width="1.5" stroke-dasharray="1.6 3.4"/>
<line x1="348.80" y1="535.45" x2="430.60" y2="535.45" stroke="#CBCBCB" stroke-width="1.5" stroke-dasharray="1.6 3.4"/>
<line x1="348.80" y1="515.10" x2="430.60" y2="515.10" stroke="#CBCBCB" stroke-width="1.5" stroke-dasharray="1.6 3.4"/>
<line x1="348.80" y1="494.75" x2="430.60" y2="494.75" stroke="#CBCBCB" stroke-width="1.5" stroke-dasharray="1.6 3.4"/>
<line x1="348.80" y1="474.40" x2="430.60" y2="474.40" stroke="#CBCBCB" stroke-width="1.5" stroke-dasharray="1.6 3.4"/>
<line x1="348.80" y1="454.05" x2="430.60" y2="454.05" stroke="#CBCBCB" stroke-width="1.5" stroke-dasharray="1.6 3.4"/>
<line x1="262.00" y1="443.40" x2="262.00" y2="623.20" stroke="#262626" stroke-width="1.6"/>
<line x1="261.20" y1="622.40" x2="342.40" y2="622.40" stroke="#262626" stroke-width="1.6"/>
<line x1="348.80" y1="622.40" x2="430.60" y2="622.40" stroke="#262626" stroke-width="1.6"/>
<line x1="257.50" y1="474.40" x2="262.00" y2="474.40" stroke="#262626" stroke-width="1.1"/>
<text x="255.70" y="478.00" text-anchor="end" font-family='"Liberation Sans", sans-serif' font-size="10" fill="#4D4D4D">0</text>
<line x1="257.50" y1="515.10" x2="262.00" y2="515.10" stroke="#262626" stroke-width="1.1"/>
<text x="255.70" y="518.70" text-anchor="end" font-family='"Liberation Sans", sans-serif' font-size="10" fill="#4D4D4D">-1</text>
<line x1="257.50" y1="555.80" x2="262.00" y2="555.80" stroke="#262626" stroke-width="1.1"/>
<text x="255.70" y="559.40" text-anchor="end" font-family='"Liberation Sans", sans-serif' font-size="10" fill="#4D4D4D">-2</text>
<line x1="257.50" y1="596.50" x2="262.00" y2="596.50" stroke="#262626" stroke-width="1.1"/>
<text x="255.70" y="600.10" text-anchor="end" font-family='"Liberation Sans", sans-serif' font-size="10" fill="#4D4D4D">-3</text>
<text transform="translate(238.00,532.90) rotate(-90)" text-anchor="middle" font-family='"Liberation Sans", sans-serif' font-size="12.8" fill="#000">Leaf Mg variation</text>
<text x="266.4" y="459.5" font-family='"Liberation Sans", sans-serif' font-weight="bold" font-style="italic" font-size="11.5" fill="#000">I x P x S (**)</text>
<line x1="283.60" y1="622.40" x2="283.60" y2="625.90" stroke="#262626" stroke-width="1.1"/>
<text x="283.60" y="635.90" text-anchor="middle" font-family='"Liberation Sans", sans-serif' font-size="10" fill="#4D4D4D">no</text>
<line x1="320.60" y1="622.40" x2="320.60" y2="625.90" stroke="#262626" stroke-width="1.1"/>
<text x="320.60" y="635.90" text-anchor="middle" font-family='"Liberation Sans", sans-serif' font-size="10" fill="#4D4D4D">yes</text>
<line x1="371.60" y1="622.40" x2="371.60" y2="625.90" stroke="#262626" stroke-width="1.1"/>
<text x="371.60" y="635.90" text-anchor="middle" font-family='"Liberation Sans", sans-serif' font-size="10" fill="#4D4D4D">no</text>
<line x1="408.60" y1="622.40" x2="408.60" y2="625.90" stroke="#262626" stroke-width="1.1"/>
<text x="408.60" y="635.90" text-anchor="middle" font-family='"Liberation Sans", sans-serif' font-size="10" fill="#4D4D4D">yes</text>
<text x="345.80" y="650.2" text-anchor="middle" font-family='"Liberation Sans", sans-serif' font-size="12.8" fill="#000">P fertilization</text>
<g stroke="#F88204" stroke-width="1.1" opacity="0.42"><line x1="279.00" y1="556.00" x2="279.00" y2="611.40"/><line x1="277.00" y1="556.00" x2="281.00" y2="556.00"/><line x1="277.00" y1="611.40" x2="281.00" y2="611.40"/></g>
<g stroke="#F88204" stroke-width="1.1" opacity="0.42"><line x1="316.00" y1="560.00" x2="316.00" y2="615.00"/><line x1="314.00" y1="560.00" x2="318.00" y2="560.00"/><line x1="314.00" y1="615.00" x2="318.00" y2="615.00"/></g>
<g stroke="#48880F" stroke-width="1.1" opacity="0.42"><line x1="288.40" y1="556.60" x2="288.40" y2="612.00"/><line x1="286.40" y1="556.60" x2="290.40" y2="556.60"/><line x1="286.40" y1="612.00" x2="290.40" y2="612.00"/></g>
<g stroke="#48880F" stroke-width="1.1" opacity="0.42"><line x1="325.40" y1="554.60" x2="325.40" y2="609.40"/><line x1="323.40" y1="554.60" x2="327.40" y2="554.60"/><line x1="323.40" y1="609.40" x2="327.40" y2="609.40"/></g>
<line x1="279.00" y1="584.00" x2="316.00" y2="587.60" stroke="#F88204" stroke-width="1.1" opacity="0.6"/>
<line x1="288.40" y1="584.40" x2="325.40" y2="582.00" stroke="#48880F" stroke-width="1.1" opacity="0.6"/>
<circle cx="279.00" cy="584.00" r="3.35" fill="#F88204"/>
<circle cx="316.00" cy="587.60" r="3.35" fill="#F88204"/>
<circle cx="288.40" cy="584.40" r="3.35" fill="#48880F"/>
<circle cx="325.40" cy="582.00" r="3.35" fill="#48880F"/>
<g stroke="#F88204" stroke-width="1.1" opacity="0.42"><line x1="367.00" y1="496.60" x2="367.00" y2="567.40"/><line x1="365.00" y1="496.60" x2="369.00" y2="496.60"/><line x1="365.00" y1="567.40" x2="369.00" y2="567.40"/></g>
<g stroke="#F88204" stroke-width="1.1" opacity="0.42"><line x1="404.00" y1="496.60" x2="404.00" y2="567.40"/><line x1="402.00" y1="496.60" x2="406.00" y2="496.60"/><line x1="402.00" y1="567.40" x2="406.00" y2="567.40"/></g>
<g stroke="#48880F" stroke-width="1.1" opacity="0.42"><line x1="376.40" y1="473.00" x2="376.40" y2="542.60"/><line x1="374.40" y1="473.00" x2="378.40" y2="473.00"/><line x1="374.40" y1="542.60" x2="378.40" y2="542.60"/></g>
<g stroke="#48880F" stroke-width="1.1" opacity="0.42"><line x1="413.60" y1="491.40" x2="413.60" y2="562.00"/><line x1="411.60" y1="491.40" x2="415.60" y2="491.40"/><line x1="411.60" y1="562.00" x2="415.60" y2="562.00"/></g>
<line x1="367.00" y1="532.00" x2="404.00" y2="532.00" stroke="#F88204" stroke-width="1.1" opacity="0.6"/>
<line x1="376.40" y1="507.60" x2="413.60" y2="527.00" stroke="#48880F" stroke-width="1.1" opacity="0.6"/>
<circle cx="367.00" cy="532.00" r="3.35" fill="#F88204"/>
<circle cx="404.00" cy="532.00" r="3.35" fill="#F88204"/>
<circle cx="376.40" cy="507.60" r="3.35" fill="#48880F"/>
<circle cx="413.60" cy="527.00" r="3.35" fill="#48880F"/>
<text x="465.5" y="435.5" font-family='"Liberation Sans", sans-serif' font-weight="bold" font-size="16.5">(h)</text>
<rect x="511.90" y="424.90" width="80.00" height="18.50" fill="#fff" stroke="#111" stroke-width="1.3"/>
<text x="551.90" y="438.30" text-anchor="middle" font-family='"Liberation Sans", sans-serif' font-size="10" fill="#2b2b2b">ACQ</text>
<rect x="600.90" y="424.90" width="80.20" height="18.50" fill="#fff" stroke="#111" stroke-width="1.3"/>
<text x="641.00" y="438.30" text-anchor="middle" font-family='"Liberation Sans", sans-serif' font-size="10" fill="#2b2b2b">CONS</text>
<line x1="510.60" y1="614.90" x2="592.40" y2="614.90" stroke="#CBCBCB" stroke-width="1.5" stroke-dasharray="1.6 3.4"/>
<line x1="510.60" y1="597.95" x2="592.40" y2="597.95" stroke="#CBCBCB" stroke-width="1.5" stroke-dasharray="1.6 3.4"/>
<line x1="510.60" y1="581.00" x2="592.40" y2="581.00" stroke="#CBCBCB" stroke-width="1.5" stroke-dasharray="1.6 3.4"/>
<line x1="510.60" y1="564.05" x2="592.40" y2="564.05" stroke="#CBCBCB" stroke-width="1.5" stroke-dasharray="1.6 3.4"/>
<line x1="510.60" y1="547.10" x2="592.40" y2="547.10" stroke="#CBCBCB" stroke-width="1.5" stroke-dasharray="1.6 3.4"/>
<line x1="510.60" y1="530.15" x2="592.40" y2="530.15" stroke="#CBCBCB" stroke-width="1.5" stroke-dasharray="1.6 3.4"/>
<line x1="510.60" y1="513.20" x2="592.40" y2="513.20" stroke="#CBCBCB" stroke-width="1.5" stroke-dasharray="1.6 3.4"/>
<line x1="510.60" y1="496.25" x2="592.40" y2="496.25" stroke="#CBCBCB" stroke-width="1.5" stroke-dasharray="1.6 3.4"/>
<line x1="510.60" y1="479.30" x2="592.40" y2="479.30" stroke="#CBCBCB" stroke-width="1.5" stroke-dasharray="1.6 3.4"/>
<line x1="510.60" y1="462.35" x2="592.40" y2="462.35" stroke="#CBCBCB" stroke-width="1.5" stroke-dasharray="1.6 3.4"/>
<line x1="510.60" y1="445.40" x2="592.40" y2="445.40" stroke="#CBCBCB" stroke-width="1.5" stroke-dasharray="1.6 3.4"/>
<line x1="599.60" y1="614.90" x2="681.60" y2="614.90" stroke="#CBCBCB" stroke-width="1.5" stroke-dasharray="1.6 3.4"/>
<line x1="599.60" y1="597.95" x2="681.60" y2="597.95" stroke="#CBCBCB" stroke-width="1.5" stroke-dasharray="1.6 3.4"/>
<line x1="599.60" y1="581.00" x2="681.60" y2="581.00" stroke="#CBCBCB" stroke-width="1.5" stroke-dasharray="1.6 3.4"/>
<line x1="599.60" y1="564.05" x2="681.60" y2="564.05" stroke="#CBCBCB" stroke-width="1.5" stroke-dasharray="1.6 3.4"/>
<line x1="599.60" y1="547.10" x2="681.60" y2="547.10" stroke="#CBCBCB" stroke-width="1.5" stroke-dasharray="1.6 3.4"/>
<line x1="599.60" y1="530.15" x2="681.60" y2="530.15" stroke="#CBCBCB" stroke-width="1.5" stroke-dasharray="1.6 3.4"/>
<line x1="599.60" y1="513.20" x2="681.60" y2="513.20" stroke="#CBCBCB" stroke-width="1.5" stroke-dasharray="1.6 3.4"/>
<line x1="599.60" y1="496.25" x2="681.60" y2="496.25" stroke="#CBCBCB" stroke-width="1.5" stroke-dasharray="1.6 3.4"/>
<line x1="599.60" y1="479.30" x2="681.60" y2="479.30" stroke="#CBCBCB" stroke-width="1.5" stroke-dasharray="1.6 3.4"/>
<line x1="599.60" y1="462.35" x2="681.60" y2="462.35" stroke="#CBCBCB" stroke-width="1.5" stroke-dasharray="1.6 3.4"/>
<line x1="599.60" y1="445.40" x2="681.60" y2="445.40" stroke="#CBCBCB" stroke-width="1.5" stroke-dasharray="1.6 3.4"/>
<line x1="511.40" y1="443.40" x2="511.40" y2="623.20" stroke="#262626" stroke-width="1.6"/>
<line x1="510.60" y1="622.40" x2="592.40" y2="622.40" stroke="#262626" stroke-width="1.6"/>
<line x1="599.60" y1="622.40" x2="681.60" y2="622.40" stroke="#262626" stroke-width="1.6"/>
<line x1="506.90" y1="445.40" x2="511.40" y2="445.40" stroke="#262626" stroke-width="1.1"/>
<text x="505.10" y="449.00" text-anchor="end" font-family='"Liberation Sans", sans-serif' font-size="10" fill="#4D4D4D">0.5</text>
<line x1="506.90" y1="479.30" x2="511.40" y2="479.30" stroke="#262626" stroke-width="1.1"/>
<text x="505.10" y="482.90" text-anchor="end" font-family='"Liberation Sans", sans-serif' font-size="10" fill="#4D4D4D">0.0</text>
<line x1="506.90" y1="513.20" x2="511.40" y2="513.20" stroke="#262626" stroke-width="1.1"/>
<text x="505.10" y="516.80" text-anchor="end" font-family='"Liberation Sans", sans-serif' font-size="10" fill="#4D4D4D">-0.5</text>
<line x1="506.90" y1="547.10" x2="511.40" y2="547.10" stroke="#262626" stroke-width="1.1"/>
<text x="505.10" y="550.70" text-anchor="end" font-family='"Liberation Sans", sans-serif' font-size="10" fill="#4D4D4D">-1.0</text>
<line x1="506.90" y1="581.00" x2="511.40" y2="581.00" stroke="#262626" stroke-width="1.1"/>
<text x="505.10" y="584.60" text-anchor="end" font-family='"Liberation Sans", sans-serif' font-size="10" fill="#4D4D4D">-1.5</text>
<line x1="506.90" y1="614.90" x2="511.40" y2="614.90" stroke="#262626" stroke-width="1.1"/>
<text x="505.10" y="618.50" text-anchor="end" font-family='"Liberation Sans", sans-serif' font-size="10" fill="#4D4D4D">-2.0</text>
<text transform="translate(478.50,532.90) rotate(-90)" text-anchor="middle" font-family='"Liberation Sans", sans-serif' font-size="12.8" fill="#000">Leaf P variation</text>
<text x="515.6" y="459.5" font-family='"Liberation Sans", sans-serif' font-weight="bold" font-style="italic" font-size="11.5" fill="#000">I x P x S (***)</text>
<line x1="533.40" y1="622.40" x2="533.40" y2="625.90" stroke="#262626" stroke-width="1.1"/>
<text x="533.40" y="635.90" text-anchor="middle" font-family='"Liberation Sans", sans-serif' font-size="10" fill="#4D4D4D">no</text>
<line x1="570.60" y1="622.40" x2="570.60" y2="625.90" stroke="#262626" stroke-width="1.1"/>
<text x="570.60" y="635.90" text-anchor="middle" font-family='"Liberation Sans", sans-serif' font-size="10" fill="#4D4D4D">yes</text>
<line x1="622.00" y1="622.40" x2="622.00" y2="625.90" stroke="#262626" stroke-width="1.1"/>
<text x="622.00" y="635.90" text-anchor="middle" font-family='"Liberation Sans", sans-serif' font-size="10" fill="#4D4D4D">no</text>
<line x1="659.00" y1="622.40" x2="659.00" y2="625.90" stroke="#262626" stroke-width="1.1"/>
<text x="659.00" y="635.90" text-anchor="middle" font-family='"Liberation Sans", sans-serif' font-size="10" fill="#4D4D4D">yes</text>
<text x="596.00" y="650.2" text-anchor="middle" font-family='"Liberation Sans", sans-serif' font-size="12.8" fill="#000">P fertilization</text>
<g stroke="#F88204" stroke-width="1.1" opacity="0.42"><line x1="529.00" y1="542.00" x2="529.00" y2="605.40"/><line x1="527.00" y1="542.00" x2="531.00" y2="542.00"/><line x1="527.00" y1="605.40" x2="531.00" y2="605.40"/></g>
<g stroke="#F88204" stroke-width="1.1" opacity="0.42"><line x1="566.00" y1="545.60" x2="566.00" y2="608.00"/><line x1="564.00" y1="545.60" x2="568.00" y2="545.60"/><line x1="564.00" y1="608.00" x2="568.00" y2="608.00"/></g>
<g stroke="#48880F" stroke-width="1.1" opacity="0.42"><line x1="538.00" y1="552.00" x2="538.00" y2="615.00"/><line x1="536.00" y1="552.00" x2="540.00" y2="552.00"/><line x1="536.00" y1="615.00" x2="540.00" y2="615.00"/></g>
<g stroke="#48880F" stroke-width="1.1" opacity="0.42"><line x1="575.40" y1="533.40" x2="575.40" y2="595.60"/><line x1="573.40" y1="533.40" x2="577.40" y2="533.40"/><line x1="573.40" y1="595.60" x2="577.40" y2="595.60"/></g>
<line x1="529.00" y1="573.60" x2="566.00" y2="577.00" stroke="#F88204" stroke-width="1.1" opacity="0.6"/>
<line x1="538.00" y1="584.00" x2="575.40" y2="564.40" stroke="#48880F" stroke-width="1.1" opacity="0.6"/>
<circle cx="529.00" cy="573.60" r="3.35" fill="#F88204"/>
<circle cx="566.00" cy="577.00" r="3.35" fill="#F88204"/>
<circle cx="538.00" cy="584.00" r="3.35" fill="#48880F"/>
<circle cx="575.40" cy="564.40" r="3.35" fill="#48880F"/>
<g stroke="#F88204" stroke-width="1.1" opacity="0.42"><line x1="617.40" y1="494.00" x2="617.40" y2="574.40"/><line x1="615.40" y1="494.00" x2="619.40" y2="494.00"/><line x1="615.40" y1="574.40" x2="619.40" y2="574.40"/></g>
<g stroke="#F88204" stroke-width="1.1" opacity="0.42"><line x1="655.00" y1="488.00" x2="655.00" y2="568.00"/><line x1="653.00" y1="488.00" x2="657.00" y2="488.00"/><line x1="653.00" y1="568.00" x2="657.00" y2="568.00"/></g>
<g stroke="#48880F" stroke-width="1.1" opacity="0.42"><line x1="627.00" y1="472.60" x2="627.00" y2="552.40"/><line x1="625.00" y1="472.60" x2="629.00" y2="472.60"/><line x1="625.00" y1="552.40" x2="629.00" y2="552.40"/></g>
<g stroke="#48880F" stroke-width="1.1" opacity="0.42"><line x1="664.00" y1="502.00" x2="664.00" y2="582.00"/><line x1="662.00" y1="502.00" x2="666.00" y2="502.00"/><line x1="662.00" y1="582.00" x2="666.00" y2="582.00"/></g>
<line x1="617.40" y1="534.40" x2="655.00" y2="528.00" stroke="#F88204" stroke-width="1.1" opacity="0.6"/>
<line x1="627.00" y1="512.40" x2="664.00" y2="542.00" stroke="#48880F" stroke-width="1.1" opacity="0.6"/>
<circle cx="617.40" cy="534.40" r="3.35" fill="#F88204"/>
<circle cx="655.00" cy="528.00" r="3.35" fill="#F88204"/>
<circle cx="627.00" cy="512.40" r="3.35" fill="#48880F"/>
<circle cx="664.00" cy="542.00" r="3.35" fill="#48880F"/>
<text x="480.6" y="76.4" font-family='"Liberation Sans", sans-serif' font-size="13.2" fill="#000">Treatments</text>
<circle cx="490.4" cy="95.40" r="3" fill="#F88204"/>
<text x="503.6" y="99.00" font-family='"Liberation Sans", sans-serif' font-size="11" fill="#000">no soil inoculation</text>
<circle cx="490.4" cy="116.95" r="3" fill="#48880F"/>
<text x="503.6" y="120.55" font-family='"Liberation Sans", sans-serif' font-size="11" fill="#000">soil inoculation</text>
<circle cx="490.4" cy="138.50" r="3" fill="#03A9E6"/>
<text x="503.6" y="142.10" font-family='"Liberation Sans", sans-serif' font-size="11" fill="#000">no P fertilization</text>
<circle cx="490.4" cy="160.05" r="3" fill="#E3302F"/>
<text x="503.6" y="163.65" font-family='"Liberation Sans", sans-serif' font-size="11" fill="#000">P fertilization</text>
</svg>
</body></html>
